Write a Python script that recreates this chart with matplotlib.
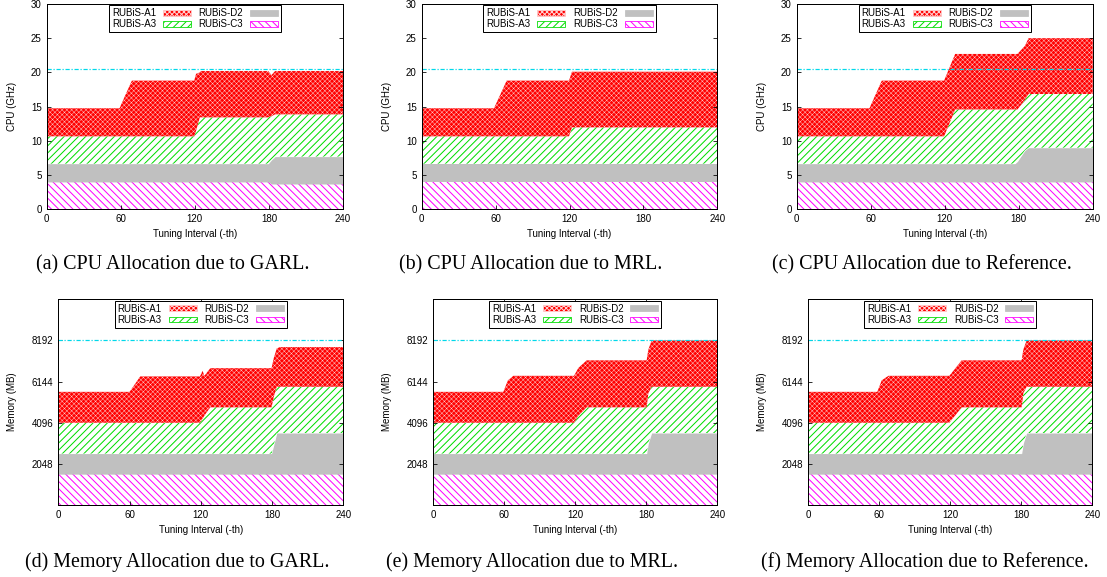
import numpy as np
import matplotlib
matplotlib.use('Agg')
import matplotlib.pyplot as plt
from matplotlib.patches import Patch

DPI = 86
W, H = 1107, 577


def pt(px):
    # pixel size -> points at this dpi
    return px * 72.0 / DPI


plt.rcParams['font.family'] = ['Liberation Sans', 'DejaVu Sans']
plt.rcParams['hatch.linewidth'] = pt(1.0)

# 1. DATA (stack order: C3 bottom, D2, A3, A1 top)
names = ['RUBiS-C3', 'RUBiS-D2', 'RUBiS-A3', 'RUBiS-A1']

# (a) CPU, GARL
a_t = [0, 59, 64, 69, 119.5, 121, 124, 125, 179.5, 182, 185, 240]
a_c3 = [4.0, 4.0, 4.0, 4.0, 4.0, 4.0, 4.0, 4.0, 4.0, 3.7, 3.7, 3.7]
a_d2 = [2.67, 2.67, 2.67, 2.67, 2.67, 2.67, 2.67, 2.67, 2.67, 3.5, 4.0, 4.0]
a_a3 = [4.0, 4.0, 4.0, 4.0, 4.0, 4.83, 6.77, 6.77, 6.77, 6.4, 6.18, 6.18]
a_a1 = [4.09, 4.09, 6.13, 8.13, 8.13, 8.3, 6.56, 6.76, 6.76, 6.0, 6.32, 6.32]

# (b) CPU, MRL
b_t = [0, 58.7, 69, 119.6, 122, 240]
b_c3 = [4.0, 4.0, 4.0, 4.0, 4.0, 4.0]
b_d2 = [2.67, 2.67, 2.67, 2.67, 2.67, 2.67]
b_a3 = [4.0, 4.0, 4.0, 4.0, 5.31, 5.31]
b_a1 = [4.09, 4.09, 8.13, 8.13, 8.12, 8.12]

# (c) CPU, Reference
c_t = [0, 59, 69, 119.5, 128.5, 177, 179, 185, 188, 240]
c_c3 = [4.0, 4.0, 4.0, 4.0, 4.0, 4.0, 4.0, 4.0, 4.0, 4.0]
c_d2 = [2.67, 2.67, 2.67, 2.67, 2.67, 2.67, 3.0, 4.6, 5.0, 5.0]
c_a3 = [4.0, 4.0, 4.0, 4.0, 7.93, 7.93, 7.6, 7.38, 7.85, 7.85]
c_a1 = [4.09, 4.09, 8.13, 8.13, 8.1, 8.1, 8.1, 7.89, 8.15, 8.15]

# (d) Memory, GARL
d_t = [0, 60, 69, 119.3, 121.5, 123, 128, 179.6, 181.5, 184, 186.7, 240]
d_c3 = [1536, 1536, 1536, 1536, 1536, 1536, 1536, 1536, 1536, 1536, 1536, 1536]
d_d2 = [1024, 1024, 1024, 1024, 1024, 1024, 1024, 1024, 1464, 2048, 2048, 2048]
d_a3 = [1536, 1536, 1536, 1536, 1740, 1890, 2304, 2304, 2400, 2304, 2304, 2304]
d_a1 = [1536, 1536, 2304, 2304, 2380, 1980, 1946, 1946, 1920, 1907, 1972, 1972]

# (e) Memory, MRL
e_t = [0, 59.2, 63, 67.6, 118.9, 122.5, 129.6, 180.3, 181.7, 184.5, 240]
e_c3 = [1536, 1536, 1536, 1536, 1536, 1536, 1536, 1536, 1536, 1536, 1536]
e_d2 = [1024, 1024, 1024, 1024, 1024, 1024, 1024, 1024, 1534, 2048, 2048]
e_a3 = [1536, 1536, 1536, 1536, 1536, 1870, 2304, 2304, 2490, 2304, 2304]
e_a1 = [1536, 1536, 2104, 2334, 2334, 2384, 2336, 2336, 2168, 2304, 2304]

# (f) Memory, Reference
f_t = [0, 58.3, 62, 67.6, 119.2, 123, 129.6, 180.3, 181.7, 184.5, 240]
f_c3 = [1536, 1536, 1536, 1536, 1536, 1536, 1536, 1536, 1536, 1536, 1536]
f_d2 = [1024, 1024, 1024, 1024, 1024, 1024, 1024, 1024, 1534, 2048, 2048]
f_a3 = [1536, 1536, 1536, 1536, 1536, 1817, 2304, 2304, 2490, 2304, 2304]
f_a1 = [1536, 1536, 2104, 2334, 2334, 2334, 2336, 2336, 2168, 2304, 2304]

cpu_cap = 20.5
mem_cap = 8192
x_ticks = [0, 60, 120, 180, 240]
cpu_ticks = [0, 5, 10, 15, 20, 25, 30]
mem_ticks = [2048, 4096, 6144, 8192]

captions = ['(a) CPU Allocation due to GARL.', '(b) CPU Allocation due to MRL.',
            '(c) CPU Allocation due to Reference.', '(d) Memory Allocation due to GARL.',
            '(e) Memory Allocation due to MRL.', '(f) Memory Allocation due to Reference.']

# 2. STYLE
RED, GREEN, GRAY, MAGENTA, CYAN = '#ff0000', '#00dd00', '#c0c0c0', '#ff00ff', '#00d8ea'
styles = [dict(facecolor='white', edgecolor=MAGENTA, hatch='\\\\\\\\'),
          dict(facecolor=GRAY, edgecolor=GRAY, hatch=None),
          dict(facecolor='white', edgecolor=GREEN, hatch='////'),
          dict(facecolor=RED, edgecolor='#ffd0d0', hatch='xxxxxx')]
hatch_lw = [pt(1.0), pt(1.0), pt(1.0), pt(0.45)]


def set_hlw(artist, lw):
    if hasattr(artist, 'set_hatch_linewidth'):
        artist.set_hatch_linewidth(lw)
    else:
        artist._hatch_linewidth = lw


# panel: (time, series, kind, axes box in px: left, top, width, height, ylabel offset, caption xy)
panels = [
    (a_t, [a_c3, a_d2, a_a3, a_a1], 'cpu', (46.7, 4, 296.3, 205.3), 35, (173, 265)),
    (b_t, [b_c3, b_d2, b_a3, b_a1], 'cpu', (421.7, 4, 295.6, 205.3), 35, (531, 265)),
    (c_t, [c_c3, c_d2, c_a3, c_a1], 'cpu', (796.7, 4, 296.0, 205.3), 35, (922, 265)),
    (d_t, [d_c3, d_d2, d_a3, d_a1], 'mem', (58.3, 299.3, 285.0, 205.7), 46, (177, 562)),
    (e_t, [e_c3, e_d2, e_a3, e_a1], 'mem', (433.3, 299.3, 284.0, 205.7), 46, (532, 562)),
    (f_t, [f_c3, f_d2, f_a3, f_a1], 'mem', (808.3, 299.3, 284.0, 205.7), 46, (925, 562)),
]

fig = plt.figure(figsize=(W / DPI, H / DPI), dpi=DPI)

for (t, series, kind, box, ylab_dx, cap_xy), cap in zip(panels, captions):
    l, top, w, h = box
    ax = fig.add_axes([l / W, 1 - (top + h) / H, w / W, h / H])
    t = np.array(t, dtype=float)
    base = np.zeros_like(t)
    for vals, st, hl in zip(series, styles, hatch_lw):
        upper = base + np.array(vals, dtype=float)
        poly = ax.fill_between(t, base, upper, linewidth=0, **st)
        set_hlw(poly, hl)
        base = upper

    cap_val = cpu_cap if kind == 'cpu' else mem_cap
    ax.axhline(cap_val, color=CYAN, lw=pt(1.2), ls=(0, (3.5, 1.5, 1, 1.5)), zorder=5)
    if kind == 'cpu':
        ax.set_ylim(0, 30)
        ax.set_yticks(cpu_ticks)
        ax.set_ylabel('CPU (GHz)', fontsize=pt(9.8))
    else:
        ax.set_ylim(0, 10240)
        ax.set_yticks(mem_ticks)
        ax.set_ylabel('Memory (MB)', fontsize=pt(9.8))
    ax.set_xlim(0, 240)
    ax.set_xticks(x_ticks)
    ax.set_xlabel('Tuning Interval (-th)', fontsize=pt(9.8))
    ax.xaxis.label.set_va('center')
    ax.yaxis.label.set_va('center')
    ax.xaxis.set_label_coords(0.5, -25 / h)
    ax.yaxis.set_label_coords(-ylab_dx / w, 0.5)
    ax.tick_params(direction='in', top=True, right=True, length=pt(4), width=pt(0.8),
                   labelsize=pt(9.8), pad=pt(5))
    for sp in ax.spines.values():
        sp.set_linewidth(pt(1.0))
        sp.set_zorder(6)

    # legend: label first, swatch after (A1, A3 | D2, C3)
    handles = []
    for i in (3, 2, 1, 0):
        hp = Patch(linewidth=pt(0.8), **styles[i])
        set_hlw(hp, hatch_lw[i])
        handles.append(hp)
    labels = [names[i] for i in (3, 2, 1, 0)]
    leg = ax.legend(handles, labels, loc='upper center', ncol=2, markerfirst=False,
                    fontsize=pt(9.8), fancybox=False, framealpha=1, edgecolor='black',
                    borderaxespad=0.14, borderpad=0.3, labelspacing=0.12,
                    handlelength=2.85, handleheight=0.5, handletextpad=0.7,
                    columnspacing=0.8)
    leg.get_frame().set_linewidth(pt(1.0))
    leg.set_zorder(7)

    fig.text(cap_xy[0] / W, 1 - cap_xy[1] / H, cap, ha='center', va='center',
             family=['Liberation Serif', 'DejaVu Serif'], fontsize=pt(20))

fig.savefig('out.png', dpi=DPI)
